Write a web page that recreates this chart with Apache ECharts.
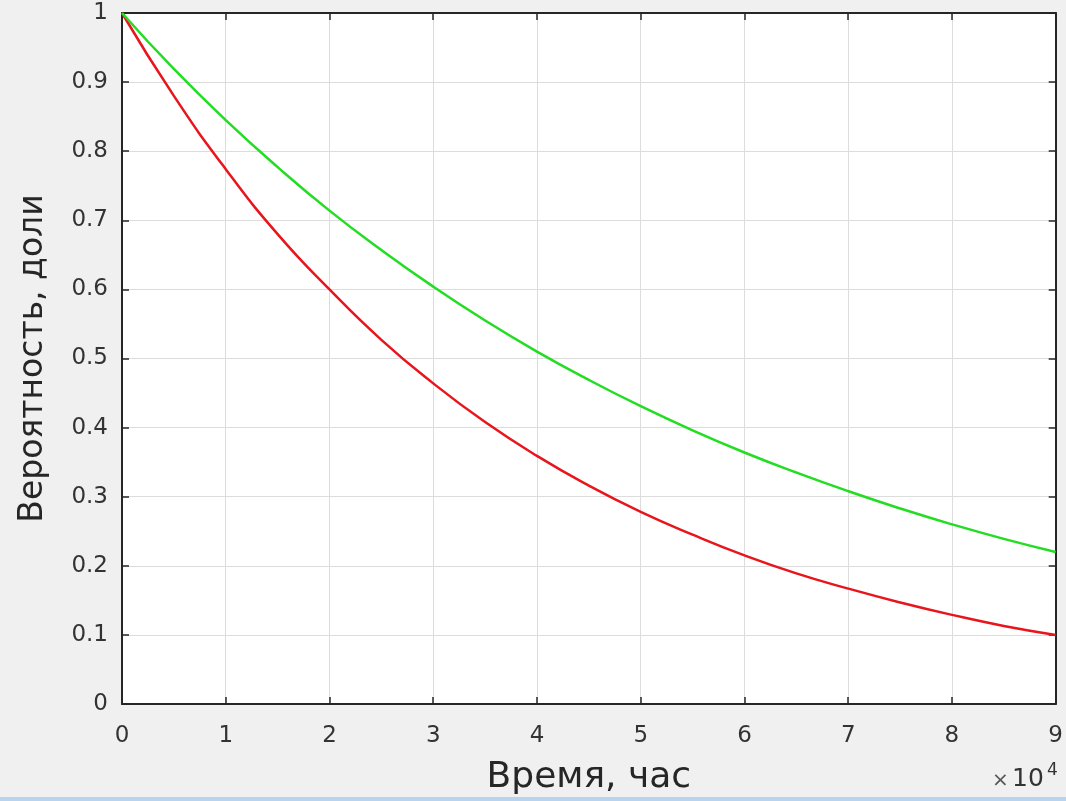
<!DOCTYPE html>
<html>
<head>
<meta charset="utf-8">
<script src="https://cdn.jsdelivr.net/npm/echarts@6/dist/echarts.min.js"></script>
<style>
  html, body { margin: 0; padding: 0; background: #f0f0f0; }
  #chart { width: 1066px; height: 801px; }
</style>
</head>
<body>
<div id="chart"></div>
<script>
// time, hours
const timeHours = [0, 5000, 10000, 15000, 20000, 25000, 30000, 35000, 40000, 45000,
  50000, 55000, 60000, 65000, 70000, 75000, 80000, 85000, 90000];
// probability, red curve
const probRed = [1, 0.88, 0.774, 0.68, 0.60, 0.527, 0.464, 0.408, 0.359, 0.316,
  0.278, 0.245, 0.215, 0.189, 0.167, 0.147, 0.129, 0.113, 0.10];
// probability, green curve
const probGreen = [1, 0.919, 0.845, 0.777, 0.714, 0.657, 0.604, 0.555, 0.510, 0.469,
  0.431, 0.396, 0.364, 0.335, 0.308, 0.283, 0.260, 0.239, 0.22];

const axisColor = '#262626';
const font = 'DejaVu Sans';

const chart = echarts.init(document.getElementById('chart'));

const boxAxis = {
  type: 'value',
  axisLine: { show: true, onZero: false, lineStyle: { color: axisColor, width: 2 } },
  axisTick: { show: true, inside: true, length: 7, lineStyle: { color: axisColor, width: 1.5 } },
  axisLabel: { show: false },
  splitLine: { show: false }
};

const option = {
  backgroundColor: '#f0f0f0',
  animation: false,
  grid: { left: 122, top: 13, right: 8, bottom: 95, show: true, backgroundColor: '#ffffff', borderWidth: 0 },
  xAxis: [
    {
      type: 'value',
      min: 0,
      max: 90000,
      interval: 10000,
      name: 'Время, час',
      nameLocation: 'middle',
      nameGap: 56,
      nameTextStyle: { color: axisColor, fontFamily: font, fontSize: 36 },
      axisLine: { show: true, onZero: false, lineStyle: { color: axisColor, width: 2 } },
      axisTick: { show: true, inside: true, length: 7, lineStyle: { color: axisColor, width: 1.5 } },
      axisLabel: {
        color: '#333333',
        fontFamily: font,
        fontSize: 23,
        margin: 21,
        formatter: v => String(v / 10000)
      },
      splitLine: { show: true, lineStyle: { color: '#dcdcdc', width: 1 } }
    },
    Object.assign({}, boxAxis, { position: 'top', min: 0, max: 90000, interval: 10000 })
  ],
  yAxis: [
    {
      type: 'value',
      min: 0,
      max: 1,
      interval: 0.1,
      name: 'Вероятность, доли',
      nameLocation: 'middle',
      nameGap: 72,
      nameRotate: 90,
      nameTextStyle: { color: axisColor, fontFamily: font, fontSize: 33 },
      axisLine: { show: true, onZero: false, lineStyle: { color: axisColor, width: 2 } },
      axisTick: { show: true, inside: true, length: 7, lineStyle: { color: axisColor, width: 1.5 } },
      axisLabel: { color: '#333333', fontFamily: font, fontSize: 23, margin: 14 },
      splitLine: { show: true, lineStyle: { color: '#dcdcdc', width: 1 } }
    },
    Object.assign({}, boxAxis, { position: 'right', min: 0, max: 1, interval: 0.1 })
  ],
  graphic: [
    {
      type: 'text',
      left: 992,
      top: 771,
      style: { text: '×', fill: '#555555', font: '20px "DejaVu Sans"' }
    },
    {
      type: 'text',
      left: 1012,
      top: 767,
      style: { text: '10', fill: '#333333', font: '25px "DejaVu Sans"' }
    },
    {
      type: 'text',
      left: 1047,
      top: 762,
      style: { text: '4', fill: '#333333', font: '17px "DejaVu Sans"' }
    },
    {
      type: 'rect',
      shape: { x: 0, y: 797, width: 1066, height: 4 },
      style: { fill: '#b9d3ee' }
    }
  ],
  series: [
    {
      name: 'red',
      type: 'line',
      smooth: true,
      showSymbol: false,
      data: timeHours.map((t, i) => [t, probRed[i]]),
      lineStyle: { color: '#e8161c', width: 2.5 },
      z: 3
    },
    {
      name: 'green',
      type: 'line',
      smooth: true,
      showSymbol: false,
      data: timeHours.map((t, i) => [t, probGreen[i]]),
      lineStyle: { color: '#22dd22', width: 2.5 },
      z: 3
    }
  ]
};

chart.setOption(option);
</script>
</body>
</html>
